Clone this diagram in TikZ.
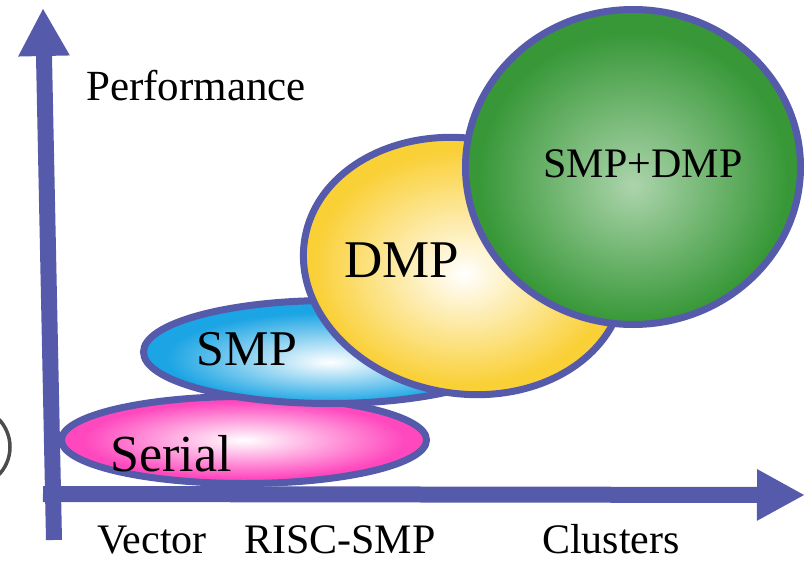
\documentclass[tikz,border=0pt]{standalone}
\usepackage{fontspec}
\setmainfont{Liberation Serif}
\usetikzlibrary{arrows.meta,shapes.geometric}

\definecolor{axisblue}{RGB}{86,90,170}
\definecolor{pinkedge}{RGB}{255,72,190}
\definecolor{blueedge}{RGB}{28,165,228}
\definecolor{goldedge}{RGB}{250,208,55}
\definecolor{greenedge}{RGB}{56,152,56}
\definecolor{greenlight}{RGB}{172,212,172}

\pgfdeclareradialshading{glowpink}{\pgfpoint{0bp}{0bp}}{color(0bp)=(white); color(22bp)=(pinkedge); color(50bp)=(pinkedge)}
\pgfdeclareradialshading{glowblue}{\pgfpoint{0bp}{-5bp}}{color(0bp)=(white); color(22bp)=(blueedge); color(50bp)=(blueedge)}
\pgfdeclareradialshading{glowgold}{\pgfpoint{0bp}{-3bp}}{color(0bp)=(white); color(22bp)=(goldedge); color(50bp)=(goldedge)}
\pgfdeclareradialshading{glowgreen}{\pgfpoint{0bp}{-3bp}}{color(0bp)=(greenlight); color(23bp)=(greenedge); color(50bp)=(greenedge)}

\begin{document}
\begin{tikzpicture}[
    x=1pt, y=-1pt,
    blob/.style={
        ellipse,
        draw=axisblue,
        line width=7pt,
        inner sep=0pt
    },
    axisarrow/.style={
        draw=axisblue,
        line width=16pt,
        -{Triangle[length=48pt,width=48pt]}
    },
    txt/.style={
        anchor=base,
        inner sep=0pt,
        font=\fontsize{42}{48}\selectfont
    },
    big/.style={
        txt,
        font=\fontsize{52}{60}\selectfont
    }
]
    \useasboundingbox (0,0) rectangle (807,565);

    %% stray circle on the left margin
    \draw[line width=3.5pt, black!70] (-30,447) circle[radius=40];

    %% axes
    \coordinate (ybase) at (54,540);
    \coordinate (ytip) at (43,8);
    \coordinate (origin) at (43,494);
    \coordinate (xtip) at (805,495);
    \draw[axisarrow] (ybase) -- (ytip);
    \draw[axisarrow] (origin) -- (xtip);

    %% ellipses, bottom to top
    \node[blob, shading=glowpink, minimum width=365pt, minimum height=87pt] (serial) at (244,440) {};
    \node[blob, shading=glowblue, minimum width=373pt, minimum height=103pt] (smp) at (330,352) {};
    \node[blob, shading=glowgold, minimum width=323pt, minimum height=255pt, rotate=-10] (dmp) at (464,266) {};
    \node[blob, shading=glowgreen, minimum width=335pt, minimum height=315pt] (hybrid) at (633,167) {};

    %% labels in the ellipses
    \node[big] (serialtxt) at (171,471) {Serial};
    \node[big, font=\fontsize{50}{58}\selectfont] (smptxt) at (247,365) {SMP};
    \node[big, font=\fontsize{53}{60}\selectfont] (dmptxt) at (402,277) {DMP};
    \node[txt] (hybridtxt) at (643,177) {SMP+DMP};

    %% axis labels
    \node[txt, font=\fontsize{43}{50}\selectfont] (perf) at (196,100) {Performance};
    \node[txt] (vector) at (152,553) {Vector};
    \node[txt] (riscsmp) at (340,553) {RISC-SMP};
    \node[txt] (clusters) at (611,553) {Clusters};
\end{tikzpicture}
\end{document}
